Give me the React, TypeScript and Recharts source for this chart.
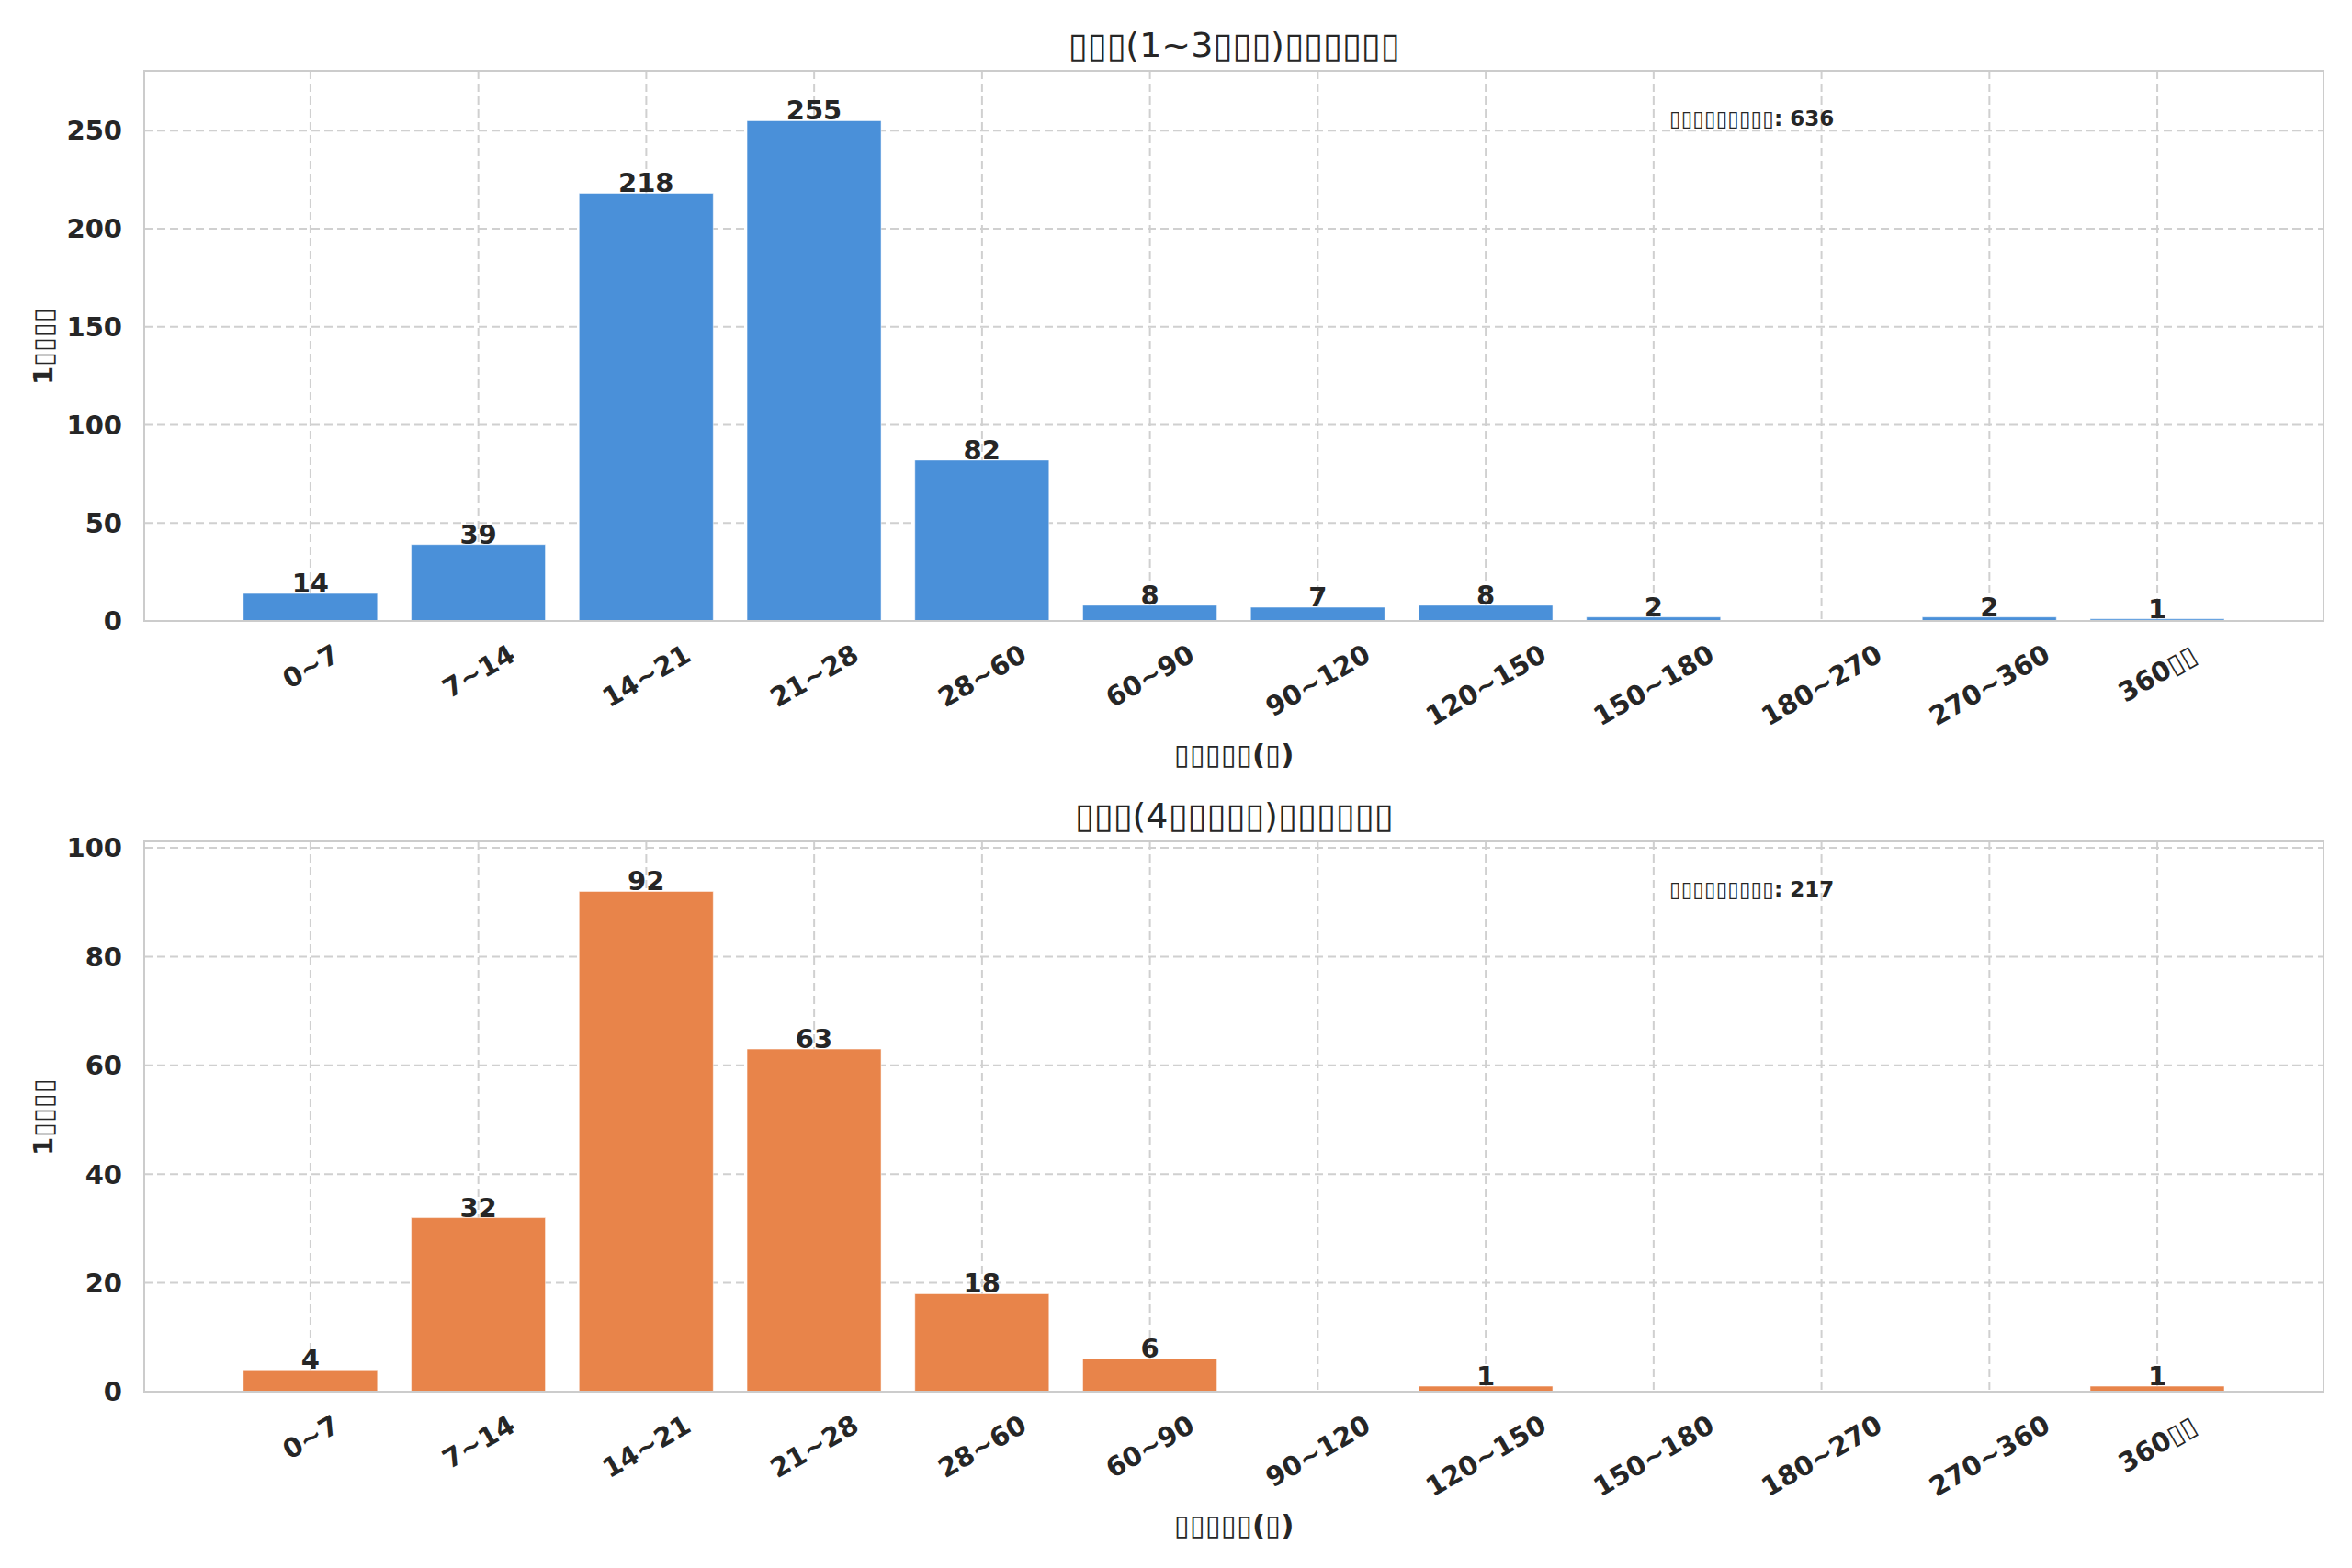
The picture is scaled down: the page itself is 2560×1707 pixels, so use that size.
import React from "react";
import { BarChart, Bar, XAxis, YAxis, CartesianGrid, LabelList } from "recharts";

// interval buckets (days)
const categories = [
  "0~7",
  "7~14",
  "14~21",
  "21~28",
  "28~60",
  "60~90",
  "90~120",
  "120~150",
  "150~180",
  "180~270",
  "270~360",
  "360▯▯",
];

const lowFreqCounts = [14, 39, 218, 255, 82, 8, 7, 8, 2, 0, 2, 1];
const highFreqCounts = [4, 32, 92, 63, 18, 6, 0, 1, 0, 0, 0, 1];

const lowTicks = [0, 50, 100, 150, 200, 250];
const highTicks = [0, 20, 40, 60, 80, 100];

const lowTitle = "▯▯▯(1~3▯▯▯)▯▯▯▯▯▯";
const highTitle = "▯▯▯(4▯▯▯▯▯)▯▯▯▯▯▯";
const lowTotal = 636;
const highTotal = 217;
const xLabel = "▯▯▯▯▯(▯)";
const yLabel = "1▯▯▯▯";
const totalLabel = "▯▯▯▯▯▯▯▯▯";

const FONT = "'DejaVu Sans', sans-serif";
const DARK = "#262626";
const TICK_FS = 29;

// rough advance widths of DejaVu Sans Bold (em)
const charWidth = (c: string) => {
  if (/[0-9]/.test(c)) return 0.696;
  if (c === "~") return 0.838;
  return 0.6;
};

const RotatedTick = (props: any) => {
  const { x, y, payload } = props;
  const label = String(payload.value);
  const w = label.split("").reduce((s, c) => s + charWidth(c), 0) * TICK_FS;
  const inkH = 0.5 * w + 0.866 * 0.73 * TICK_FS;
  const cy = y + 24 + inkH / 2;
  return (
    <text
      x={x}
      y={cy}
      dy="0.36em"
      textAnchor="middle"
      transform={`rotate(-30, ${x}, ${cy})`}
      fontSize={TICK_FS}
      fontWeight={700}
      fontFamily={FONT}
      fill={DARK}
    >
      {label}
    </text>
  );
};

const BarValue = (props: any) => {
  const { x, y, width, value } = props;
  if (!value) return null;
  return (
    <text
      x={x + width / 2}
      y={y - 1}
      textAnchor="middle"
      fontSize={29}
      fontWeight={700}
      fontFamily={FONT}
      fill={DARK}
    >
      {value}
    </text>
  );
};

type PanelProps = {
  top: number;
  height: number;
  marginTop: number;
  marginBottom: number;
  counts: number[];
  ticks: number[];
  ymax: number;
  color: string;
  title: string;
  total: number;
};

const PLOT_LEFT = 157;
const PLOT_RIGHT = 2529;

const Panel = ({ top, height, marginTop, marginBottom, counts, ticks, ymax, color, title, total }: PanelProps) => {
  const rows = categories.map((c, i) => ({ range: c, count: counts[i] }));
  const plotTop = top + marginTop;
  const plotBottom = top + height - marginBottom - 150;
  const plotW = PLOT_RIGHT - PLOT_LEFT;
  const unit = plotW / 12.98;
  const pad = 0.49 * unit;
  const centerX = (PLOT_LEFT + PLOT_RIGHT) / 2;
  return (
    <>
      <div style={{ position: "absolute", left: 0, top, width: 2560, height }}>
        <BarChart
          width={2560}
          height={height}
          data={rows}
          margin={{ top: marginTop, right: 2560 - PLOT_RIGHT, bottom: marginBottom, left: PLOT_LEFT - 100 }}
          barCategoryGap="10%"
        >
          <CartesianGrid stroke="#d0d0d0" strokeWidth={2} strokeDasharray="9 5" />
          <XAxis
            dataKey="range"
            axisLine={false}
            tickLine={false}
            tickSize={0}
            tickMargin={0}
            height={150}
            interval={0}
            padding={{ left: pad, right: pad }}
            tick={<RotatedTick />}
          />
          <YAxis
            width={100}
            domain={[0, ymax]}
            ticks={ticks}
            axisLine={false}
            tickLine={false}
            tickSize={0}
            tickMargin={24}
            tick={{ fontSize: TICK_FS, fontWeight: 700, fill: DARK, fontFamily: FONT }}
          />
          <Bar dataKey="count" fill={color} stroke="#ffffff" strokeOpacity={0.5} strokeWidth={1} isAnimationActive={false}>
            <LabelList dataKey="count" content={<BarValue />} />
          </Bar>
        </BarChart>
      </div>
      {/* axes frame */}
      <div
        style={{
          position: "absolute",
          left: PLOT_LEFT - 1,
          top: plotTop - 1,
          width: plotW + 2,
          height: plotBottom - plotTop + 2,
          border: "2px solid #cccccc",
          boxSizing: "border-box",
          pointerEvents: "none",
        }}
      />
      <div
        style={{
          position: "absolute",
          left: centerX,
          top: plotTop - 28,
          transform: "translate(-50%, -50%)",
          fontSize: 38,
          lineHeight: 1,
          color: DARK,
          whiteSpace: "nowrap",
        }}
      >
        {title}
      </div>
      <div
        style={{
          position: "absolute",
          left: 1817,
          top: plotTop + 52,
          transform: "translateY(-50%)",
          fontSize: 23,
          fontWeight: 700,
          lineHeight: 1,
          color: DARK,
          whiteSpace: "nowrap",
        }}
      >
        {totalLabel}: {total}
      </div>
      <div
        style={{
          position: "absolute",
          left: centerX,
          top: plotBottom + 145,
          transform: "translate(-50%, -50%)",
          fontSize: 31,
          fontWeight: 700,
          lineHeight: 1,
          color: DARK,
          whiteSpace: "nowrap",
        }}
      >
        {xLabel}
      </div>
      <div
        style={{
          position: "absolute",
          left: 47,
          top: (plotTop + plotBottom) / 2,
          transform: "translate(-50%, -50%) rotate(-90deg)",
          fontSize: 29,
          fontWeight: 700,
          lineHeight: 1,
          color: DARK,
          whiteSpace: "nowrap",
        }}
      >
        {yLabel}
      </div>
    </>
  );
};

export default function App() {
  return (
    <div
      style={{
        position: "absolute",
        left: 0,
        top: 0,
        width: 2560,
        height: 1707,
        background: "#ffffff",
        fontFamily: FONT,
        overflow: "hidden",
      }}
    >
      <Panel
        top={0}
        height={853}
        marginTop={77}
        marginBottom={27}
        counts={lowFreqCounts}
        ticks={lowTicks}
        ymax={280.5}
        color="#4a90d9"
        title={lowTitle}
        total={lowTotal}
      />
      <Panel
        top={853}
        height={854}
        marginTop={63}
        marginBottom={42}
        counts={highFreqCounts}
        ticks={highTicks}
        ymax={101.2}
        color="#e8844a"
        title={highTitle}
        total={highTotal}
      />
    </div>
  );
}
